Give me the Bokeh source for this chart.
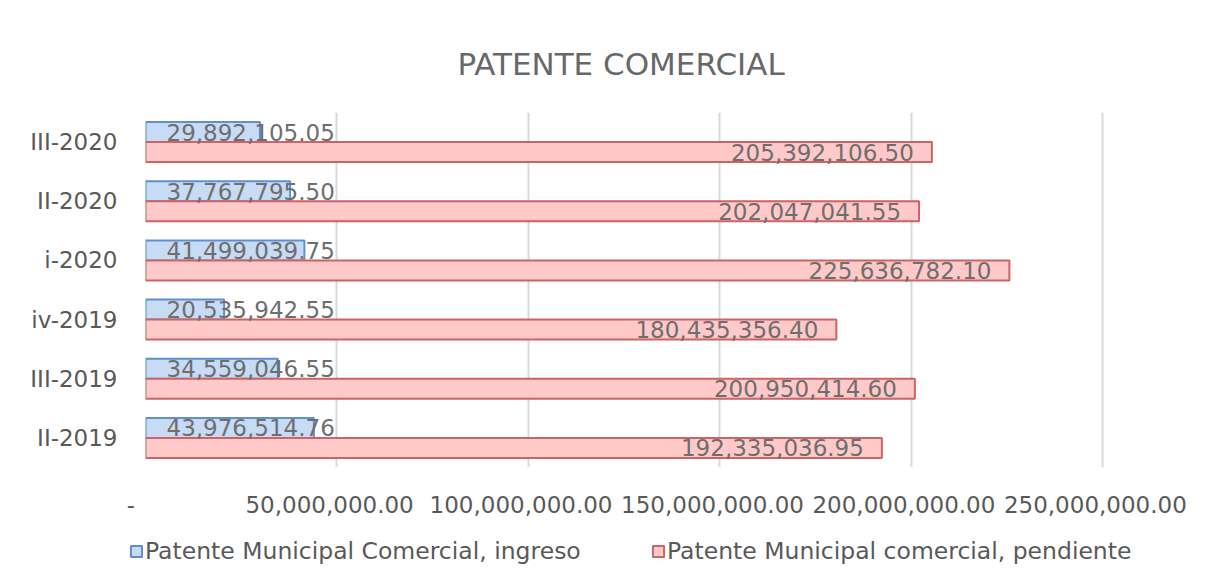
from bokeh.plotting import figure
from bokeh.models import (FactorRange, Range1d, ColumnDataSource, Legend, LegendItem,
                          SingleIntervalTicker, CustomJSTickFormatter)
from bokeh.transform import dodge
from bokeh.core.properties import value
from bokeh.embed import file_html
from bokeh.resources import INLINE

# ---- data ----
categories = ["II-2019", "III-2019", "iv-2019", "i-2020", "II-2020", "III-2020"]
ingreso = [43976514.76, 34559046.55, 20535942.55, 41499039.75, 37767795.50, 29892105.05]
pendiente = [192335036.95, 200950414.60, 180435356.40, 225636782.10, 202047041.55, 205392106.50]
series_names = ["Patente Municipal Comercial, ingreso", "Patente Municipal comercial, pendiente"]
title_text = "PATENTE  COMERCIAL"
x_max = 250000000
tick_step = 50000000

FONT = "DejaVu Sans"
GRAY = "#595959"
LBL = "#6e6e6e"
BLUE_FILL, BLUE_LINE = "#c8dbf5", "#5f8fcf"
RED_FILL, RED_LINE = "#ffc9c9", "#cc6464"

src = ColumnDataSource(dict(
    cat=categories,
    ing=ingreso,
    pen=pendiente,
    zero=[0] * len(categories),
    ing_lbl=[f"{v:,.2f}" for v in ingreso],
    pen_lbl=[f"{v:,.2f}" for v in pendiente],
))

p = figure(width=1219, height=520, output_backend="svg", toolbar_location=None,
           y_range=FactorRange(*categories, range_padding=0),
           x_range=Range1d(0, x_max * 1.004),
           min_border_left=145, min_border_right=113, min_border_top=112,
           min_border_bottom=53)

p.title.text = title_text
p.title.align = "center"
p.title.text_font = FONT
p.title.text_font_size = "31px"
p.title.text_font_style = "normal"
p.title.text_color = "#686868"
p.title.standoff = 62

bh = 0.338
r_ing = p.hbar(y=dodge("cat", bh / 2, range=p.y_range), right="ing", left=0, height=bh,
               source=src, fill_color=BLUE_FILL, line_color=BLUE_LINE, line_width=2)
r_pen = p.hbar(y=dodge("cat", -bh / 2, range=p.y_range), right="pen", left=0, height=bh,
               source=src, fill_color=RED_FILL, line_color=RED_LINE, line_width=2)

p.text(x="zero", y=dodge("cat", bh / 2, range=p.y_range), text="ing_lbl", source=src,
       x_offset=21, text_align="left", text_baseline="middle",
       text_font=value(FONT), text_font_size="23px", text_color=LBL)
p.text(x="pen", y=dodge("cat", -bh / 2, range=p.y_range), text="pen_lbl", source=src,
       x_offset=-18, text_align="right", text_baseline="middle",
       text_font=value(FONT), text_font_size="23px", text_color=LBL)

# axes
p.xaxis.ticker = SingleIntervalTicker(interval=tick_step)
p.xaxis.formatter = CustomJSTickFormatter(code="""
    const nb = "\\u00a0";
    if (tick == 0) return "-" + nb + nb + nb + nb;
    return tick.toLocaleString('en-US', {minimumFractionDigits: 2, maximumFractionDigits: 2}) + nb + nb;
""")
for ax in (p.xaxis, p.yaxis):
    ax.axis_line_color = None
    ax.major_tick_line_color = None
    ax.minor_tick_line_color = None
    ax.major_label_text_font = FONT
    ax.major_label_text_font_size = "23px"
    ax.major_label_text_color = GRAY
p.xaxis.major_label_standoff = 18
p.yaxis.major_label_standoff = 22

p.ygrid.grid_line_color = None
p.xgrid.grid_line_color = "#d9d9d9"
p.xgrid.grid_line_width = 2
p.outline_line_color = None

# ---- legend strip below the chart (separate root, so its frame is the whole strip) ----
pl = figure(width=1219, height=55, output_backend="svg", toolbar_location=None,
            x_range=Range1d(0, 1), y_range=Range1d(0, 1), min_border=0)
pl.axis.visible = False
pl.grid.visible = False
pl.outline_line_color = None
dummy = ColumnDataSource(dict(y=[-5], r=[0]))
lb = pl.hbar(y="y", right="r", height=0.1, source=dummy,
             fill_color=BLUE_FILL, line_color=BLUE_LINE, line_width=2)
lr = pl.hbar(y="y", right="r", height=0.1, source=dummy,
             fill_color=RED_FILL, line_color=RED_LINE, line_width=2)
for rend, name, x0 in ((lb, series_names[0], 129), (lr, series_names[1], 651)):
    lg = Legend(items=[LegendItem(label=name, renderers=[rend])],
                location=(x0, 10), orientation="horizontal",
                label_text_font=FONT, label_text_font_size="23.5px", label_text_color=GRAY,
                glyph_width=14, glyph_height=14, label_standoff=2,
                border_line_color=None, background_fill_alpha=0, padding=0, margin=0)
    pl.add_layout(lg, "center")

open("out.html", "w").write(file_html([p, pl], INLINE))
